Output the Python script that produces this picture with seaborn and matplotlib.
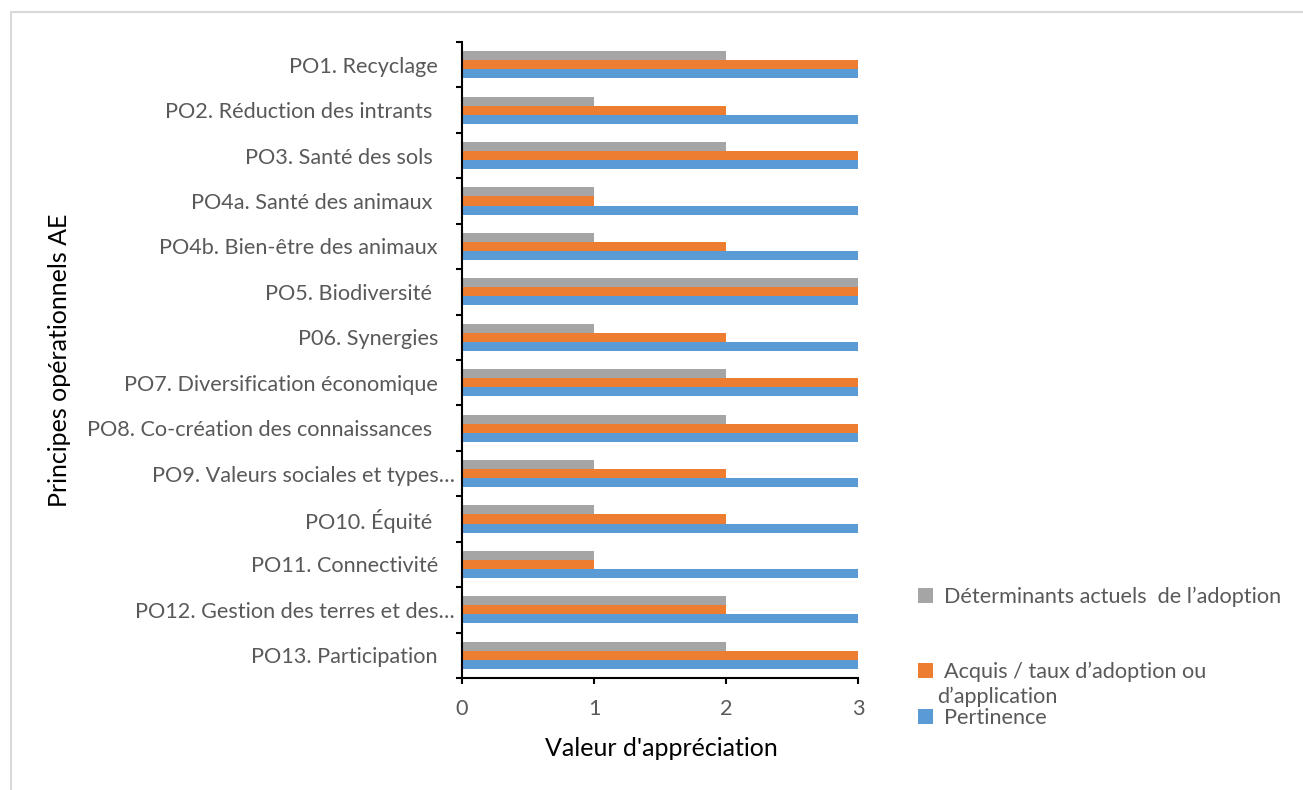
import matplotlib
matplotlib.use("Agg")
import matplotlib.pyplot as plt
from matplotlib.patches import Patch
from matplotlib.lines import Line2D
from matplotlib.ticker import FixedLocator
import matplotlib.transforms as mtransforms
import seaborn as sns
import pandas as pd

# Operational principles (top to bottom)
principes = [
    "PO1. Recyclage",
    "PO2. Réduction des intrants ",
    "PO3. Santé des sols ",
    "PO4a. Santé des animaux ",
    "PO4b. Bien-être des animaux",
    "PO5. Biodiversité ",
    "P06. Synergies",
    "PO7. Diversification économique",
    "PO8. Co-création des connaissances ",
    "PO9. Valeurs sociales et types…",
    "PO10. Équité ",
    "PO11. Connectivité",
    "PO12. Gestion des terres et des…",
    "PO13. Participation",
]

serie_determinants = "Déterminants actuels  de l’adoption"
serie_acquis = "Acquis / taux d’adoption ou d’application"
serie_pertinence = "Pertinence"

determinants = [2, 1, 2, 1, 1, 3, 1, 2, 2, 1, 1, 1, 2, 2]
acquis = [3, 2, 3, 1, 2, 3, 2, 3, 3, 2, 2, 1, 2, 3]
pertinence = [3, 3, 3, 3, 3, 3, 3, 3, 3, 3, 3, 3, 3, 3]

x_ticks = [0, 1, 2, 3]

couleurs = {
    serie_determinants: "#A5A5A5",
    serie_acquis: "#ED7D31",
    serie_pertinence: "#5B9BD5",
}
ordre = [serie_determinants, serie_acquis, serie_pertinence]

df = pd.concat([
    pd.DataFrame({"principe": principes, "serie": serie_determinants, "valeur": determinants}),
    pd.DataFrame({"principe": principes, "serie": serie_acquis, "valeur": acquis}),
    pd.DataFrame({"principe": principes, "serie": serie_pertinence, "valeur": pertinence}),
])

sns.set_theme(style="white")
plt.rcParams["font.family"] = ["Lato", "DejaVu Sans"]

W, H = 1303, 790
PX = 72 / 100  # points per pixel at 100 dpi
fig = plt.figure(figsize=(W / 100, H / 100), dpi=100)
ax = fig.add_axes([462 / W, 1 - 678 / H, (858 - 462) / W, (678 - 42) / H])

sns.barplot(
    data=df, y="principe", x="valeur", hue="serie", hue_order=ordre,
    order=principes, palette=couleurs, orient="h", width=0.6, gap=0,
    linewidth=0, saturation=1, legend=False, ax=ax,
)

ax.set_xlim(0, 3)
ax.set_ylim(len(principes) - 0.5, -0.5)
ax.set_xticks(x_ticks)
ax.set_xticklabels([str(t) for t in x_ticks])

for side in ("top", "right"):
    ax.spines[side].set_visible(False)
for side in ("left", "bottom"):
    ax.spines[side].set_color("black")
    ax.spines[side].set_linewidth(1.5)

fs = 15.6

# category boundary ticks on the value axis
ax.yaxis.set_minor_locator(FixedLocator([i - 0.5 for i in range(len(principes) + 1)]))
ax.tick_params(axis="y", which="major", length=0, pad=24 * PX, labelsize=fs, labelcolor="#595959")
ax.tick_params(axis="y", which="minor", length=6 * PX, width=1.5, color="black", direction="out", left=True)
ax.tick_params(axis="x", which="major", length=6 * PX, width=1.5, color="black", direction="out",
               bottom=True, pad=15 * PX, labelsize=fs, labelcolor="#595959")

# truncated labels sit closer to the axis
shift = mtransforms.ScaledTranslation(17 / 100, 0, fig.dpi_scale_trans)
for lbl in ax.get_yticklabels():
    if lbl.get_text().endswith("…"):
        lbl.set_transform(lbl.get_transform() + shift)

ax.set_xlabel("")
ax.set_ylabel("")
fig.text(661 / W, 1 - 748 / H, "Valeur d'appréciation",
         ha="center", va="center", fontsize=18, color="black")
fig.text(60 / W, 1 - 360 / H, "Principes opérationnels AE", rotation=90,
         ha="center", va="center", fontsize=18, color="black")

# legend entries
def entree(texte, serie, y_px):
    return fig.legend(
        handles=[Patch(facecolor=couleurs[serie], edgecolor="none")],
        labels=[texte], loc="center left",
        bbox_to_anchor=(918 / W, 1 - y_px / H), frameon=False,
        fontsize=fs, handlelength=0.68, handleheight=0.68, handletextpad=0.5,
        borderaxespad=0, borderpad=0, labelcolor="#595959",
    )

entree("Déterminants actuels  de l’adoption", serie_determinants, 597)
entree("Acquis / taux d’adoption ou", serie_acquis, 672)
fig.text(937 / W, 1 - 697 / H, "d’application", ha="left", va="center",
         fontsize=fs, color="#595959")
entree("Pertinence", serie_pertinence, 718)

# outer chart frame
fig.add_artist(Line2D([11 / W, 11 / W], [0, 1 - 12 / H], transform=fig.transFigure,
                      color="#D9D9D9", linewidth=1.5))
fig.add_artist(Line2D([11 / W, 1], [1 - 12 / H, 1 - 12 / H], transform=fig.transFigure,
                      color="#D9D9D9", linewidth=1.5))

fig.savefig("out.png", dpi=100, facecolor="white")
